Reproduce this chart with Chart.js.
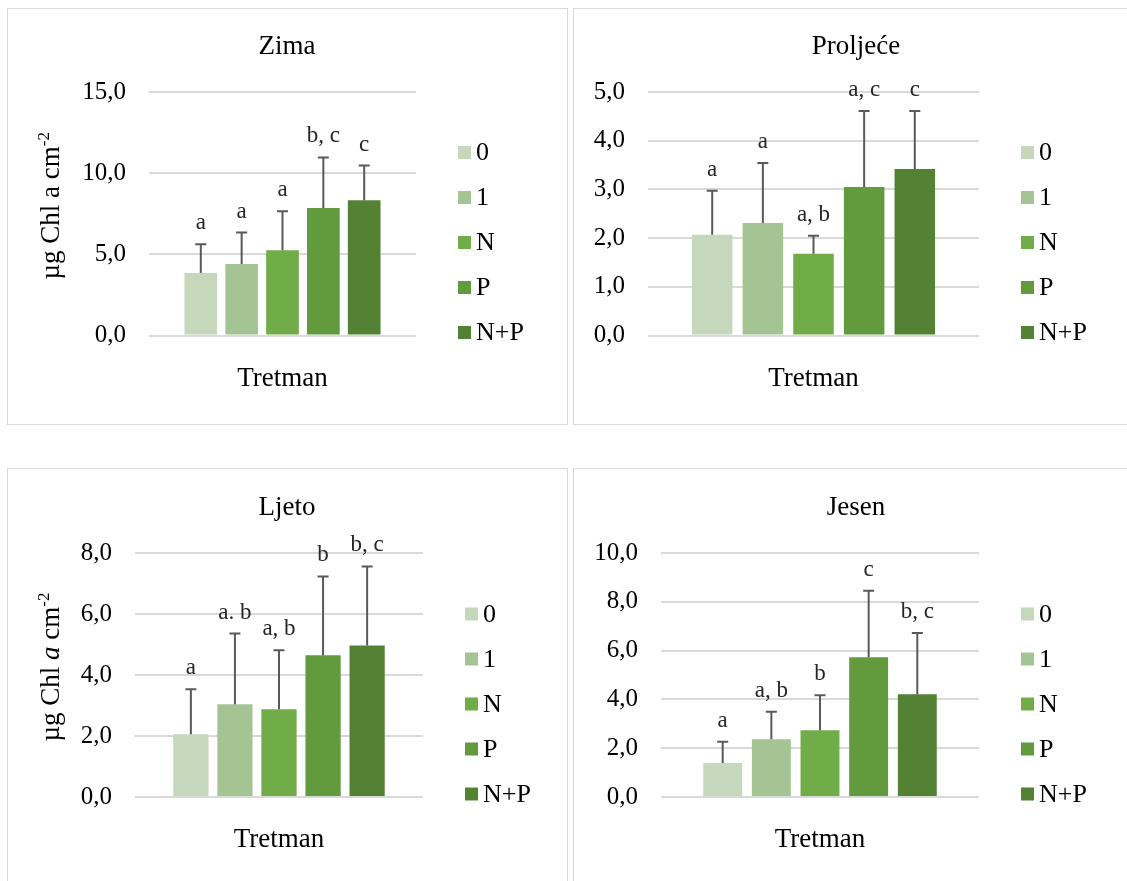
<!DOCTYPE html>
<html>
<head>
<meta charset="utf-8">
<script src="https://cdn.jsdelivr.net/npm/chart.js@4.4.1/dist/chart.umd.min.js"></script>
<style>
  html, body { margin: 0; padding: 0; background: #ffffff; overflow: hidden; width: 1127px; height: 881px; }
  .panel { position: absolute; border: 1px solid #d9d9d9; box-sizing: border-box; }
  canvas { position: absolute; }
</style>
</head>
<body>
<div class="panel" style="left:7px;top:8px;width:561px;height:417px"></div>
<div class="panel" style="left:573px;top:8px;width:566px;height:417px"></div>
<div class="panel" style="left:7px;top:468px;width:561px;height:440px"></div>
<div class="panel" style="left:573px;top:468px;width:566px;height:440px"></div>
<canvas id="c1" width="560" height="417" style="left:7px;top:8px"></canvas>
<canvas id="c2" width="566" height="417" style="left:573px;top:8px"></canvas>
<canvas id="c3" width="560" height="420" style="left:7px;top:468px"></canvas>
<canvas id="c4" width="566" height="420" style="left:573px;top:468px"></canvas>
<script>
// ---------------- DATA ----------------
const treatments = ['0', '1', 'N', 'P', 'N+P'];
const seasons = ['Zima', 'Proljeće', 'Ljeto', 'Jesen'];
const xAxisLabel = 'Tretman';

const zimaMeans    = [3.85, 4.40, 5.25, 7.86, 8.33];
const zimaErrors   = [1.77, 1.94, 2.40, 3.11, 2.14];
const zimaLetters  = ['a', 'a', 'a', 'b, c', 'c'];

const proljeceMeans   = [2.07, 2.31, 1.68, 3.05, 3.42];
const proljeceErrors  = [0.90, 1.23, 0.37, 1.56, 1.19];
const proljeceLetters = ['a', 'a', 'a, b', 'a, c', 'c'];

const ljetoMeans   = [2.06, 3.04, 2.88, 4.65, 4.97];
const ljetoErrors  = [1.47, 2.32, 1.93, 2.58, 2.59];
const ljetoLetters = ['a', 'a. b', 'a, b', 'b', 'b, c'];

const jesenMeans   = [1.39, 2.37, 2.74, 5.73, 4.21];
const jesenErrors  = [0.87, 1.12, 1.43, 2.72, 2.51];
const jesenLetters = ['a', 'a, b', 'b', 'c', 'b, c'];

const yMaxValues  = [15, 5, 8, 10];
const yStepValues = [5, 1, 2, 2];

// ---------------- STYLE ----------------
const barColors = ['#c5d8bc', '#a5c493', '#70ac47', '#629a3e', '#548235'];
const FONT = "'Liberation Serif', 'Times New Roman', serif";

// y-axis title parts: [text, italic?, superscript?]
const yTitleZima  = [['µg Chl ', false, false], ['a', false, false], [' cm', false, false], ['-2', false, true]];
const yTitleLjeto = [['µg Chl ', false, false], ['a', true, false], [' cm', false, false], ['-2', false, true]];

// ---------------- PLUGINS ----------------
const errorBarPlugin = {
  id: 'errorBars',
  afterDatasetsDraw(chart) {
    const ctx = chart.ctx;
    const ys = chart.scales.y;
    ctx.save();
    chart.data.datasets.forEach((ds, i) => {
      const meta = chart.getDatasetMeta(i);
      meta.data.forEach((bar, j) => {
        const v = ds.data[j];
        const e = ds.errorPlus[j];
        const yTop = ys.getPixelForValue(v + e);
        ctx.strokeStyle = '#595959';
        ctx.lineWidth = 2;
        ctx.beginPath();
        ctx.moveTo(bar.x, bar.y);
        ctx.lineTo(bar.x, yTop);
        ctx.moveTo(bar.x - 5.5, yTop);
        ctx.lineTo(bar.x + 5.5, yTop);
        ctx.stroke();
        ctx.fillStyle = '#262626';
        ctx.font = '23px ' + FONT;
        ctx.textAlign = 'center';
        ctx.textBaseline = 'alphabetic';
        ctx.fillText(ds.letters[j], bar.x, yTop - 15);
      });
    });
    ctx.restore();
  }
};

const sideLegendPlugin = {
  id: 'sideLegend',
  afterDraw(chart) {
    const ctx = chart.ctx;
    const area = chart.chartArea;
    const ds = chart.data.datasets;
    const n = ds.length;
    const x0 = area.right + 42;
    ctx.save();
    ctx.font = '26px ' + FONT;
    ctx.textAlign = 'left';
    ctx.textBaseline = 'middle';
    ds.forEach((d, i) => {
      const yc = area.bottom - 3 - (n - 1 - i) * 45;
      ctx.fillStyle = d.backgroundColor;
      ctx.fillRect(x0, yc - 6.5, 13, 13);
      ctx.fillStyle = '#000000';
      ctx.fillText(d.label, x0 + 18, yc + 1);
    });
    ctx.restore();
  }
};

const yTitlePlugin = {
  id: 'yTitle',
  afterDraw(chart, args, opts) {
    if (!opts || !opts.parts) return;
    const ctx = chart.ctx;
    const area = chart.chartArea;
    const size = 27;
    const supSize = 17;
    const fontFor = p => (p[1] ? 'italic ' : '') + (p[2] ? supSize : size) + 'px ' + FONT;
    ctx.save();
    let total = 0;
    const widths = opts.parts.map(p => { ctx.font = fontFor(p); const w = ctx.measureText(p[0]).width; total += w; return w; });
    ctx.translate(opts.x, (area.top + area.bottom) / 2 + opts.dy);
    ctx.rotate(-Math.PI / 2);
    ctx.fillStyle = '#000000';
    ctx.textAlign = 'left';
    ctx.textBaseline = 'alphabetic';
    let cx = -total / 2;
    opts.parts.forEach((p, k) => {
      ctx.font = fontFor(p);
      ctx.fillText(p[0], cx, p[2] ? -10 : 0);
      cx += widths[k];
    });
    ctx.restore();
  }
};

// ---------------- CHART FACTORY ----------------
function makeChart(canvasId, idx, means, errors, letters, geom, yTitleParts) {
  const datasets = treatments.map((t, i) => ({
    label: t,
    data: [means[i]],
    errorPlus: [errors[i]],
    letters: [letters[i]],
    backgroundColor: barColors[i],
    borderWidth: 0,
    yAxisID: 'y',
    categoryPercentage: 0.765,
    barPercentage: 0.8
  }));
  return new Chart(document.getElementById(canvasId), {
    type: 'bar',
    data: { labels: [xAxisLabel], datasets },
    plugins: [errorBarPlugin, sideLegendPlugin, yTitlePlugin],
    options: {
      responsive: false,
      animation: false,
      layout: { padding: 0 },
      plugins: {
        legend: { display: false },
        tooltip: { enabled: false },
        title: {
          display: true,
          text: seasons[idx],
          color: '#000000',
          font: { family: FONT, size: 27, weight: 'normal', lineHeight: 1.2 },
          padding: { top: geom.titleMid - 16, bottom: geom.top - (geom.titleMid - 16) - 32.4 }
        },
        yTitle: yTitleParts ? { parts: yTitleParts, x: geom.yTitleX, dy: geom.yTitleDy } : {}
      },
      scales: {
        x: {
          grid: { display: false, drawTicks: false },
          border: { display: false },
          ticks: { display: false },
          title: {
            display: true,
            text: xAxisLabel,
            color: '#000000',
            font: { family: FONT, size: 27, lineHeight: 1.2 },
            padding: { top: 0, bottom: geom.h - geom.xTitleMid - 16.2 }
          },
          afterFit: s => { s.height = geom.h - geom.bottom; }
        },
        y: {
          min: 0,
          max: yMaxValues[idx],
          grid: { color: '#d9d9d9', lineWidth: 2, drawTicks: false },
          border: { display: false },
          ticks: {
            stepSize: yStepValues[idx],
            padding: 23,
            color: '#000000',
            font: { family: FONT, size: 25 },
            callback: v => Number(v).toFixed(1).replace('.', ',')
          },
          afterFit: s => { s.width = geom.left; }
        },
        legendSpace: {
          type: 'linear',
          axis: 'y',
          position: 'right',
          display: true,
          grid: { display: false, drawTicks: false },
          border: { display: false },
          ticks: { display: false },
          afterFit: s => { s.width = geom.w - geom.right; }
        }
      }
    }
  });
}

makeChart('c1', 0, zimaMeans, zimaErrors, zimaLetters,
  { w: 560, h: 417, left: 142, right: 409, top: 84, bottom: 327.5, titleMid: 39, xTitleMid: 371, yTitleX: 52, yTitleDy: -8 }, yTitleZima);
makeChart('c2', 1, proljeceMeans, proljeceErrors, proljeceLetters,
  { w: 566, h: 417, left: 75, right: 406, top: 84, bottom: 327.5, titleMid: 39, xTitleMid: 371 }, null);
makeChart('c3', 2, ljetoMeans, ljetoErrors, ljetoLetters,
  { w: 560, h: 420, left: 128, right: 416, top: 85, bottom: 329, titleMid: 40, xTitleMid: 372, yTitleX: 52, yTitleDy: -8 }, yTitleLjeto);
makeChart('c4', 3, jesenMeans, jesenErrors, jesenLetters,
  { w: 566, h: 420, left: 88, right: 406, top: 85, bottom: 329, titleMid: 40, xTitleMid: 372 }, null);
</script>
</body>
</html>
